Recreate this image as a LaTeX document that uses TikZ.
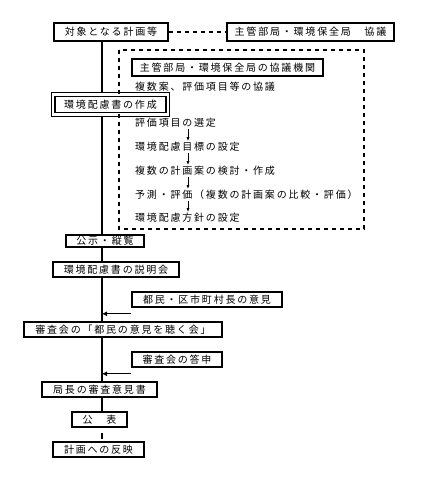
\documentclass[tikz,border=0pt]{standalone}
\usepackage{fontspec}
\setmainfont{Noto Sans CJK JP}[LetterSpace=18]
\usetikzlibrary{arrows.meta}

\begin{document}
\begin{tikzpicture}[x=1pt, y=-1pt,
    box/.style={draw, line width=1.6pt, fill=white, inner sep=0pt, minimum height=15pt, font=\fontsize{10}{12}\selectfont},
    txt/.style={anchor=west, inner sep=0pt, font=\fontsize{10}{12}\selectfont},
    flow/.style={line width=1.8pt},
    dashline/.style={line width=1.6pt, dash pattern=on 4pt off 4pt},
    stepline/.style={line width=0.8pt, shorten <=1pt, shorten >=1pt, -{Latex[length=4pt,width=3pt]}},
    feed/.style={line width=1.3pt, -{Latex[length=5pt,width=5pt]}}]
    \useasboundingbox (0,0) rectangle (429,477);
    \coordinate (spine) at (102,0);
    \coordinate (stepx) at (188,0);

    % Consultation frame
    \draw[dashline] (119,50) rectangle (364,229);

    % Main flow boxes
    \node[box, minimum width=114, minimum height=18] (plan) at (111,32) {対象となる計画等};
    \node[box, minimum width=167, minimum height=18] (consult) at (310.5,32) {主管部局・環境保全局　協議};
    \node[box, minimum width=111, minimum height=16] (draft) at (110.5,104.5) {環境配慮書の作成};
    \draw[line width=0.8pt] ([shift={(-3pt,3pt)}]draft.north west) rectangle ([shift={(3pt,-3pt)}]draft.south east);
    \node[box, minimum width=78, minimum height=12] (notice) at (105,241) {公示・縦覧};
    \node[box, minimum width=126] (brief) at (116,269.5) {環境配慮書の説明会};
    \node[box, minimum width=198] (hearing) at (123,329.5) {審査会の「都民の意見を聴く会」};
    \node[box, minimum width=115] (opinion) at (99.5,389.5) {局長の審査意見書};
    \node[box, minimum width=55] (pub) at (99.5,419.5) {公　表};
    \node[box, minimum width=91] (reflect) at (98.5,449.5) {計画への反映};

    % Side inputs
    \node[box, minimum width=150] (citizen) at (207,299.5) {都民・区市町村長の意見};
    \node[box, minimum width=90] (report) at (177,359.5) {審査会の答申};

    % Inside the frame
    \node[box, minimum width=191, minimum height=17] (organ) at (227.5,67.5) {主管部局・環境保全局の協議機関};
    \node[txt] (agenda) at (135,87) {複数案、評価項目等の協議};
    \node[txt] (s1) at (135,123) {評価項目の選定};
    \node[txt] (s2) at (135,147) {環境配慮目標の設定};
    \node[txt] (s3) at (135,171) {複数の計画案の検討・作成};
    \node[txt] (s4) at (135,195) {予測・評価（複数の計画案の比較・評価）};
    \node[txt] (s5) at (135,218) {環境配慮方針の設定};

    \draw[stepline] (s1.south -| stepx) -- (s2.north -| stepx);
    \draw[stepline] (s2.south -| stepx) -- (s3.north -| stepx);
    \draw[stepline] (s3.south -| stepx) -- (s4.north -| stepx);
    \draw[stepline] (s4.south -| stepx) -- (s5.north -| stepx);

    % Connectors
    \draw[dashline] (plan.east) -- (consult.west);
    \draw[flow] (plan.south -| spine) -- ([yshift=3pt]draft.north -| spine);
    \draw[flow] ([yshift=-3pt]draft.south -| spine) -- (notice.north -| spine);
    \draw[flow] (notice.south -| spine) -- (brief.north -| spine);
    \draw[flow] (brief.south -| spine) -- (hearing.north -| spine);
    \draw[flow] (hearing.south -| spine) -- (opinion.north -| spine);
    \draw[flow] (opinion.south -| spine) -- (pub.north -| spine);
    \draw[flow, shorten <=5pt, shorten >=2pt] (pub.south -| spine) -- (reflect.north -| spine);

    \draw[feed] ([yshift=-6pt]citizen.south west) -- ([yshift=-6pt]citizen.south west -| spine);
    \draw[feed] ([yshift=-6pt]report.south west) -- ([yshift=-6pt]report.south west -| spine);
\end{tikzpicture}
\end{document}
